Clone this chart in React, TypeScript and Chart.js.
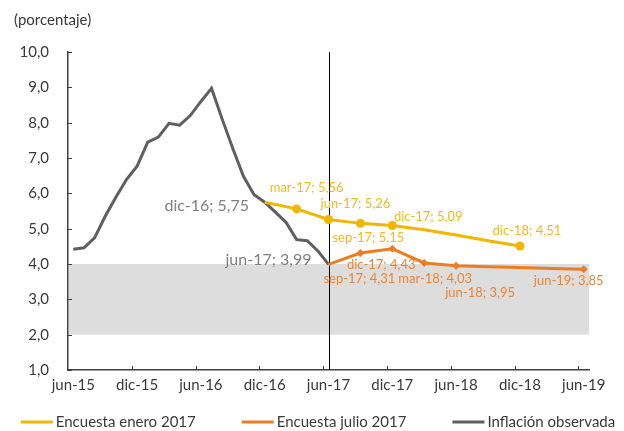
import React, { useEffect, useRef } from 'react';
import { Chart, registerables } from 'chart.js';

Chart.register(...registerables);

// ---------- data ----------
const MONTH_NAMES = ['ene', 'feb', 'mar', 'abr', 'may', 'jun', 'jul', 'ago', 'sep', 'oct', 'nov', 'dic'];
const FIRST_YEAR = 2015;
const FIRST_MONTH = 6;
const LAST_YEAR = 2019;
const LAST_MONTH = 6;

function buildCategories(): string[] {
  const out: string[] = [];
  let y = FIRST_YEAR;
  let m = FIRST_MONTH;
  while (y < LAST_YEAR || (y === LAST_YEAR && m <= LAST_MONTH)) {
    out.push(`${MONTH_NAMES[m - 1]}-${String(y % 100).padStart(2, '0')}`);
    m++;
    if (m > 12) { m = 1; y++; }
  }
  return out;
}
const CATEGORIES = buildCategories();
const TICK_LABELS = ['jun-15', 'dic-15', 'jun-16', 'dic-16', 'jun-17', 'dic-17', 'jun-18', 'dic-18', 'jun-19'];
const Y_MIN = 1;
const Y_MAX = 10;
const Y_STEP = 1;

const ENERO_LABEL = 'Encuesta enero 2017';
const ENERO_MONTHS = ['dic-16', 'mar-17', 'jun-17', 'sep-17', 'dic-17', 'mar-18', 'jun-18', 'sep-18', 'dic-18'];
const ENERO_VALUES = [5.75, 5.56, 5.26, 5.15, 5.09, 4.97, 4.82, 4.66, 4.51];
const ENERO_MARKED = ['mar-17', 'jun-17', 'sep-17', 'dic-17', 'dic-18'];

const JULIO_LABEL = 'Encuesta julio 2017';
const JULIO_MONTHS = ['jun-17', 'sep-17', 'dic-17', 'mar-18', 'jun-18', 'sep-18', 'dic-18', 'mar-19', 'jun-19'];
const JULIO_VALUES = [3.99, 4.31, 4.43, 4.03, 3.95, 3.92, 3.9, 3.87, 3.85];
const JULIO_MARKED = ['sep-17', 'dic-17', 'mar-18', 'jun-18', 'jun-19'];

const INFLATION_LABEL = 'Inflación observada';
const INFLATION_MONTHS = CATEGORIES.slice(0, 25); // jun-15 .. jun-17
const INFLATION_VALUES = [4.42, 4.46, 4.74, 5.35, 5.89, 6.39, 6.77, 7.45, 7.59, 7.98, 7.93, 8.2, 8.6, 8.97, 8.1, 7.27, 6.48, 5.96, 5.75, 5.47, 5.18, 4.69, 4.66, 4.37, 3.99];

const TARGET_LOW = 2;
const TARGET_HIGH = 4;
const REFERENCE_MONTH = 'jun-17';

// ---------- styles ----------
const FONT = 'Lato';
const AXIS_COLOR = '#404040';
const TEXT_COLOR = '#3a3a3a';
const YELLOW = '#F2B600';
const ORANGE = '#ED7D22';
const GRAY = '#5F5F5F';
const BAND_COLOR = '#DDDDDD';

// annotation label placement (offsets from the point, in px)
const ANNOTATIONS = [
  { ds: 0, month: 'mar-17', dx: 10, dy: -21, color: '#F2BA1E', size: 13 },
  { ds: 0, month: 'jun-17', dx: 27, dy: -16, color: '#F2BA1E', size: 13 },
  { ds: 0, month: 'sep-17', dx: 8, dy: 14, color: '#F2BA1E', size: 13 },
  { ds: 0, month: 'dic-17', dx: 36, dy: -9, color: '#F2BA1E', size: 13 },
  { ds: 0, month: 'dic-18', dx: 7, dy: -15, color: '#F2BA1E', size: 13 },
  { ds: 1, month: 'sep-17', dx: -1, dy: 26, color: '#EE8532', size: 13 },
  { ds: 1, month: 'dic-17', dx: -11, dy: 16, color: '#EE8532', size: 13 },
  { ds: 1, month: 'mar-18', dx: 11, dy: 16, color: '#EE8532', size: 13 },
  { ds: 1, month: 'jun-18', dx: 24, dy: 27, color: '#EE8532', size: 13 },
  { ds: 1, month: 'jun-19', dx: -15, dy: 12, color: '#EE8532', size: 13 },
  { ds: 2, month: 'dic-16', dx: -58, dy: 4, color: '#808080', size: 16 },
  { ds: 2, month: 'jun-17', dx: -60, dy: -5, color: '#808080', size: 16 },
];

const fmt = (v: number, digits: number) => v.toFixed(digits).replace('.', ',');

const bandPlugin = {
  id: 'bandAndGuides',
  beforeDatasetsDraw(chart: any) {
    const { ctx, chartArea, scales } = chart;
    const ys = scales.y;
    const xs = scales.x;
    ctx.save();
    const yTop = ys.getPixelForValue(TARGET_HIGH);
    const yBot = ys.getPixelForValue(TARGET_LOW);
    ctx.fillStyle = BAND_COLOR;
    ctx.fillRect(chartArea.left + 1, yTop, chartArea.right - chartArea.left - 1, yBot - yTop);

    // inward tick marks
    ctx.strokeStyle = AXIS_COLOR;
    ctx.lineWidth = 1;
    ctx.beginPath();
    for (let v = Y_MIN; v <= Y_MAX; v += Y_STEP) {
      const y = Math.round(ys.getPixelForValue(v)) + 0.5;
      ctx.moveTo(chartArea.left, y);
      ctx.lineTo(chartArea.left + 4, y);
    }
    TICK_LABELS.forEach((lbl) => {
      const i = CATEGORIES.indexOf(lbl);
      if (i <= 0) return;
      const x = Math.round((xs.getPixelForValue(i - 1) + xs.getPixelForValue(i)) / 2) + 0.5;
      ctx.moveTo(x, chartArea.bottom);
      ctx.lineTo(x, chartArea.bottom - 4);
    });
    ctx.stroke();

    // reference vertical line
    const xr = Math.round(xs.getPixelForValue(CATEGORIES.indexOf(REFERENCE_MONTH))) + 0.5;
    ctx.strokeStyle = '#000000';
    ctx.lineWidth = 1;
    ctx.beginPath();
    ctx.moveTo(xr, chartArea.top);
    ctx.lineTo(xr, chartArea.bottom);
    ctx.stroke();
    ctx.restore();
  },
};

const labelsPlugin = {
  id: 'pointLabels',
  afterDatasetsDraw(chart: any) {
    const { ctx } = chart;
    ctx.save();
    ctx.textAlign = 'center';
    ctx.textBaseline = 'middle';
    ANNOTATIONS.forEach((a) => {
      const ds = chart.data.datasets[a.ds];
      const k = ds.data.findIndex((p: any) => p.x === a.month);
      if (k < 0) return;
      const el = chart.getDatasetMeta(a.ds).data[k];
      const text = `${a.month}; ${fmt(ds.data[k].y, 2)}`;
      ctx.font = `${a.size}px ${FONT}`;
      ctx.fillStyle = a.color;
      ctx.fillText(text, el.x + a.dx, el.y + a.dy);
    });
    ctx.restore();
  },
};

const legendPlugin = {
  id: 'bottomLegend',
  afterDraw(chart: any) {
    const { ctx } = chart;
    const datasets = chart.data.datasets;
    ctx.save();
    ctx.font = `15px ${FONT}`;
    const lineW = 32;
    const gapText = 3;
    const gapItem = 46;
    const widths = datasets.map((d: any) => lineW + gapText + ctx.measureText(d.label).width);
    const total = widths.reduce((s: number, w: number) => s + w, 0) + gapItem * (datasets.length - 1);
    let x = chart.width / 2 + 6 - total / 2;
    const y = 422;
    ctx.textBaseline = 'middle';
    ctx.textAlign = 'left';
    datasets.forEach((d: any, i: number) => {
      ctx.fillStyle = d.borderColor;
      ctx.fillRect(x, y - 1.5, lineW, 3);
      ctx.fillStyle = TEXT_COLOR;
      ctx.fillText(d.label, x + lineW + gapText, y);
      x += widths[i] + gapItem;
    });
    ctx.restore();
  },
};

export default function App() {
  const canvasRef = useRef<HTMLCanvasElement | null>(null);

  useEffect(() => {
    if (!canvasRef.current) return;
    const toPoints = (months: string[], values: number[]) => months.map((m, i) => ({ x: m, y: values[i] }));
    const chart = new Chart(canvasRef.current, {
      type: 'line',
      data: {
        labels: CATEGORIES,
        datasets: [
          {
            label: ENERO_LABEL,
            data: toPoints(ENERO_MONTHS, ENERO_VALUES),
            borderColor: YELLOW,
            backgroundColor: YELLOW,
            borderWidth: 3,
            pointStyle: 'circle',
            pointRadius: (c: any) => (ENERO_MARKED.includes(c.raw?.x) ? 4.5 : 0),
            pointBorderWidth: 0,
            tension: 0,
          },
          {
            label: JULIO_LABEL,
            data: toPoints(JULIO_MONTHS, JULIO_VALUES),
            borderColor: ORANGE,
            backgroundColor: ORANGE,
            borderWidth: 3,
            pointStyle: 'rectRot',
            pointRadius: (c: any) => (JULIO_MARKED.includes(c.raw?.x) ? 4 : 0),
            pointBorderWidth: 0,
            tension: 0,
          },
          {
            label: INFLATION_LABEL,
            data: toPoints(INFLATION_MONTHS, INFLATION_VALUES),
            borderColor: GRAY,
            backgroundColor: GRAY,
            borderWidth: 3,
            pointRadius: 0,
            tension: 0,
          },
        ],
      },
      options: {
        animation: false,
        responsive: true,
        maintainAspectRatio: false,
        layout: { padding: { left: 14, right: 35, top: 0, bottom: 31 } },
        plugins: {
          legend: { display: false },
          tooltip: { enabled: false },
          title: {
            display: true,
            text: '(porcentaje)',
            align: 'start',
            color: TEXT_COLOR,
            font: { family: FONT, size: 15, weight: 'normal' },
            padding: { top: 11, bottom: 23 },
          },
        },
        scales: {
          x: {
            type: 'category',
            offset: true,
            grid: { display: false, drawTicks: false },
            border: { display: true, color: AXIS_COLOR, width: 1.5 },
            ticks: {
              autoSkip: false,
              maxRotation: 0,
              padding: 6,
              color: TEXT_COLOR,
              font: { family: FONT, size: 15 },
              callback: (_v: any, i: number) => (TICK_LABELS.includes(CATEGORIES[i]) ? CATEGORIES[i] : null),
            },
          },
          y: {
            min: Y_MIN,
            max: Y_MAX,
            grid: { display: false, drawTicks: false },
            border: { display: true, color: AXIS_COLOR, width: 1.5 },
            ticks: {
              stepSize: Y_STEP,
              padding: 19,
              color: TEXT_COLOR,
              font: { family: FONT, size: 15 },
              callback: (v: any) => fmt(Number(v), 1),
            },
            afterFit: (s: any) => { s.width = 54; },
          },
        },
      },
      plugins: [bandPlugin, labelsPlugin, legendPlugin],
    } as any);
    return () => chart.destroy();
  }, []);

  return (
    <div style={{ position: 'fixed', left: 0, top: 0, width: 624, height: 431, background: '#ffffff' }}>
      <canvas ref={canvasRef} />
    </div>
  );
}
